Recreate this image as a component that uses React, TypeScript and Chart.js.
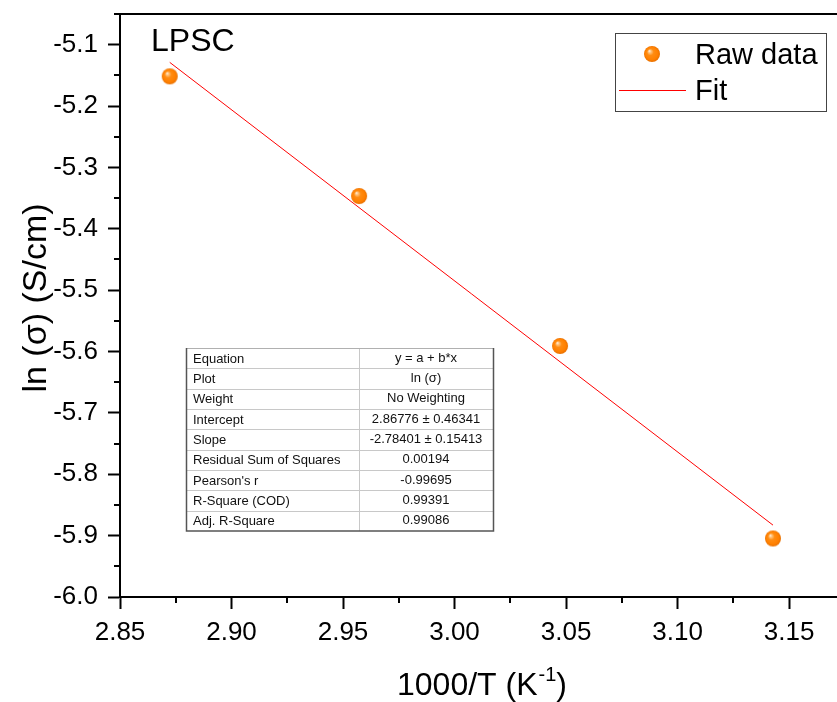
import React, { useEffect, useRef } from 'react';
import { Chart, registerables } from 'chart.js';

Chart.register(...registerables);

// ---- data ----
const rawX = [2.8723, 2.9572, 3.0473, 3.1428];
const rawY = [-5.1516, -5.3466, -5.5909, -5.9046];
const fitX = [2.8723, 3.1428];
const fitY = [-5.1288, -5.8829];

const xMin = 2.85;
const xMax = 3.1715;
const yMin = -6.0;
const yMax = -5.05;

const tableLabels = [
  'Equation',
  'Plot',
  'Weight',
  'Intercept',
  'Slope',
  'Residual Sum of Squares',
  "Pearson's r",
  'R-Square (COD)',
  'Adj. R-Square',
];
const tableValues = [
  'y = a + b*x',
  'ln (σ)',
  'No Weighting',
  '2.86776 ± 0.46341',
  '-2.78401 ± 0.15413',
  '0.00194',
  '-0.99695',
  '0.99391',
  '0.99086',
];

const FONT = "'Liberation Sans', Arial, Helvetica, sans-serif";

function makeBall(r: number): HTMLCanvasElement {
  const c = document.createElement('canvas');
  const s = Math.ceil(r * 2 + 2);
  c.width = s;
  c.height = s;
  const g = c.getContext('2d')!;
  const cx = s / 2;
  const cy = s / 2;
  const grad = g.createRadialGradient(cx - r * 0.35, cy - r * 0.4, 0, cx, cy, r);
  grad.addColorStop(0, '#fff6ec');
  grad.addColorStop(0.18, '#ffc27a');
  grad.addColorStop(0.42, '#ff8c12');
  grad.addColorStop(0.8, '#ff8000');
  grad.addColorStop(1, '#e87000');
  g.fillStyle = grad;
  g.beginPath();
  g.arc(cx, cy, r, 0, Math.PI * 2);
  g.fill();
  return c;
}

export default function App() {
  const ref = useRef<HTMLCanvasElement>(null);

  useEffect(() => {
    const canvas = ref.current;
    if (!canvas) return;
    const ball = makeBall(8);

    const extras = {
      id: 'extras',
      afterDraw(chart: any) {
        const { ctx, chartArea, scales } = chart;
        const xs = scales.x;
        const ys = scales.y;
        ctx.save();
        ctx.strokeStyle = '#000';
        ctx.lineWidth = 2;
        // top frame line
        ctx.beginPath();
        ctx.moveTo(chartArea.left - 6, chartArea.top);
        ctx.lineTo(chartArea.right, chartArea.top);
        ctx.stroke();
        // minor ticks
        ctx.beginPath();
        for (let i = 0; i < 7; i++) {
          const v = 2.875 + i * 0.05;
          if (v > xs.max) break;
          const px = Math.round(xs.getPixelForValue(v));
          ctx.moveTo(px, chartArea.bottom);
          ctx.lineTo(px, chartArea.bottom + 6);
        }
        for (let i = 0; i < 10; i++) {
          const v = -5.95 + i * 0.1;
          if (v > ys.max) break;
          const py = Math.round(ys.getPixelForValue(v));
          ctx.moveTo(chartArea.left, py);
          ctx.lineTo(chartArea.left - 6, py);
        }
        ctx.stroke();

        // axis titles
        ctx.fillStyle = '#000';
        ctx.textBaseline = 'alphabetic';
        ctx.textAlign = 'left';
        const big = `32px ${FONT}`;
        const small = `20px ${FONT}`;
        ctx.font = big;
        const p1 = '1000/T (K';
        const p3 = ')';
        const w1 = ctx.measureText(p1).width;
        const w3 = ctx.measureText(p3).width;
        ctx.font = small;
        const p2 = '-1';
        const w2 = ctx.measureText(p2).width;
        const total = w1 + w2 + w3 + 1;
        const cxT = 482;
        let tx = cxT - total / 2;
        const base = 695;
        ctx.font = big;
        ctx.fillText(p1, tx, base);
        tx += w1 + 1;
        ctx.font = small;
        ctx.fillText(p2, tx, base - 14);
        tx += w2;
        ctx.font = big;
        ctx.fillText(p3, tx, base);

        ctx.save();
        ctx.translate(46, 298);
        ctx.rotate(-Math.PI / 2);
        ctx.textAlign = 'center';
        ctx.font = `34px ${FONT}`;
        ctx.fillText('ln (σ) (S/cm)', 0, 0);
        ctx.restore();

        // LPSC label
        ctx.font = `32px ${FONT}`;
        ctx.textAlign = 'left';
        ctx.fillText('LPSC', 151, 51);

        // legend
        ctx.lineWidth = 1;
        ctx.strokeStyle = '#444';
        ctx.strokeRect(615.5, 33.5, 211, 78);
        ctx.drawImage(ball, 652 - ball.width / 2, 54 - ball.height / 2);
        ctx.strokeStyle = '#ff0000';
        ctx.beginPath();
        ctx.moveTo(619, 90.5);
        ctx.lineTo(686, 90.5);
        ctx.stroke();
        ctx.fillStyle = '#000';
        ctx.font = `29px ${FONT}`;
        ctx.textBaseline = 'alphabetic';
        ctx.fillText('Raw data', 695, 64);
        ctx.fillText('Fit', 695, 100);

        // stats table
        const tL = 186, tR = 493, tT = 348, tB = 531, tMid = 359;
        const rows = tableLabels.length;
        const rh = (tB - tT) / rows;
        ctx.fillStyle = '#fff';
        ctx.fillRect(tL, tT, tR - tL, tB - tT);
        ctx.strokeStyle = '#c8c8c8';
        ctx.lineWidth = 1;
        ctx.beginPath();
        for (let i = 1; i < rows; i++) {
          const y = Math.round(tT + i * rh) + 0.5;
          ctx.moveTo(tL, y);
          ctx.lineTo(tR, y);
        }
        ctx.moveTo(tMid + 0.5, tT);
        ctx.lineTo(tMid + 0.5, tB);
        ctx.stroke();
        ctx.strokeStyle = '#b0b0b0';
        ctx.beginPath();
        ctx.moveTo(tL, tT + 0.5);
        ctx.lineTo(tR, tT + 0.5);
        ctx.stroke();
        ctx.strokeStyle = '#555';
        ctx.lineWidth = 1.5;
        ctx.beginPath();
        ctx.moveTo(tL + 0.5, tT);
        ctx.lineTo(tL + 0.5, tB);
        ctx.lineTo(tR + 0.5, tB);
        ctx.lineTo(tR + 0.5, tT);
        ctx.stroke();
        ctx.fillStyle = '#111';
        ctx.font = `13px ${FONT}`;
        ctx.textBaseline = 'middle';
        for (let i = 0; i < rows; i++) {
          const y = tT + i * rh + rh / 2 + 1;
          ctx.textAlign = 'left';
          ctx.fillText(tableLabels[i], tL + 7, y);
          ctx.textAlign = 'center';
          ctx.fillText(tableValues[i], (tMid + tR) / 2, y - 1);
        }
        ctx.restore();
      },
    };

    const chart = new Chart(canvas, {
      type: 'scatter',
      data: {
        datasets: [
          {
            label: 'Raw data',
            data: rawX.map((x, i) => ({ x, y: rawY[i] })),
            pointStyle: ball as any,
            pointRadius: 8,
            order: 0,
          },
          {
            label: 'Fit',
            data: fitX.map((x, i) => ({ x, y: fitY[i] })),
            showLine: true,
            borderColor: '#ff0000',
            borderWidth: 1,
            pointRadius: 0,
            order: 1,
          } as any,
        ],
      },
      options: {
        responsive: false,
        animation: false,
        events: [],
        layout: { autoPadding: false, padding: { top: 14, left: 0, right: 0, bottom: 0 } },
        plugins: {
          legend: { display: false },
          tooltip: { enabled: false },
        },
        scales: {
          x: {
            type: 'linear',
            min: xMin,
            max: xMax,
            afterFit: (s: any) => {
              s.height = 105;
              s.paddingLeft = 0;
              s.paddingRight = 0;
            },
            border: { display: true, color: '#000', width: 2 },
            grid: {
              drawOnChartArea: false,
              drawTicks: true,
              tickLength: 12,
              tickWidth: 2,
              tickColor: '#000',
            },
            ticks: {
              stepSize: 0.05,
              includeBounds: false,
              maxRotation: 0,
              autoSkip: false,
              padding: 8,
              color: '#000',
              font: { family: FONT, size: 26 },
              callback: (v: any) => Number(v).toFixed(2),
            },
          },
          y: {
            type: 'linear',
            min: yMin,
            max: yMax,
            afterFit: (s: any) => {
              s.width = 120;
              s.paddingTop = 0;
              s.paddingBottom = 0;
            },
            border: { display: true, color: '#000', width: 2 },
            grid: {
              drawOnChartArea: false,
              drawTicks: true,
              tickLength: 12,
              tickWidth: 2,
              tickColor: '#000',
            },
            ticks: {
              stepSize: 0.1,
              includeBounds: false,
              autoSkip: false,
              padding: 10,
              color: '#000',
              font: { family: FONT, size: 26 },
              callback: (v: any) => Number(v).toFixed(1),
            },
          },
        },
      },
      plugins: [extras],
    } as any);

    return () => chart.destroy();
  }, []);

  return (
    <div style={{ position: 'absolute', left: 0, top: 0, width: 837, height: 702, background: '#fff' }}>
      <canvas ref={ref} width={837} height={702} style={{ display: 'block' }} />
    </div>
  );
}
